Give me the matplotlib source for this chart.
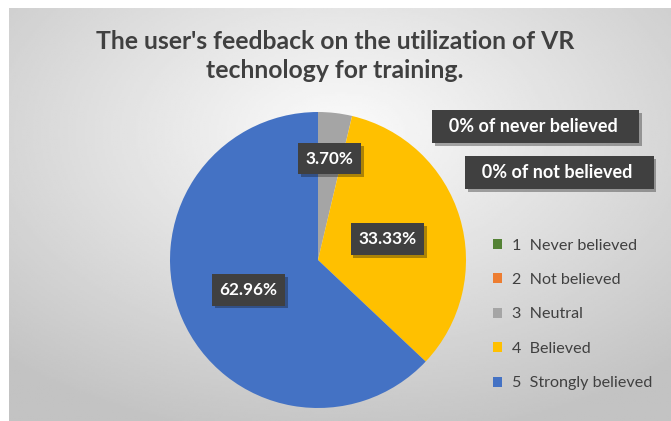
import numpy as np
import matplotlib.pyplot as plt
import matplotlib.patheffects as pe

# Survey data (percent)
categories = ['Never believed', 'Not believed', 'Neutral', 'Believed', 'Strongly believed']
codes = ['1', '2', '3', '4', '5']
values = [0.0, 0.0, 3.70, 33.33, 62.96]
colors = ['#548235', '#ED7D31', '#A5A5A5', '#FFC000', '#4472C4']
zero_notes = ['0% of never believed', '0% of not believed']

title = "The user's feedback on the utilization of VR\ntechnology for training."

plt.rcParams['font.family'] = ['Lato', 'DejaVu Sans']

W, H = 671, 421
fig = plt.figure(figsize=(W / 100, H / 100), dpi=100)
fig.patch.set_facecolor('white')

# radial gradient background of chart area
bg = fig.add_axes([9 / W, 0, (W - 9) / W, (H - 8) / H])
bg.set_axis_off()
yy, xx = np.mgrid[0:200, 0:320]
d = np.hypot((xx - 160) / 320, (yy - 60) / 200)
shade = 0.985 - 0.22 * np.clip(d / 0.75, 0, 1)
bg.imshow(shade, cmap='gray', vmin=0, vmax=1, aspect='auto', extent=[0, 1, 0, 1])
bg.set_xlim(0, 1)
bg.set_ylim(0, 1)

fig.text(335 / W, 1 - 56 / H, title, ha='center', va='center', fontsize=17.8,
         fontweight='bold', color='#404040', linespacing=1.35)

# pie axes: centre (318, 260) px, radius 148 px
r = 148
ax = fig.add_axes([(318 - r) / W, (H - 260 - r) / H, 2 * r / W, 2 * r / H])
wedges, _ = ax.pie(values, colors=colors, startangle=90, counterclock=False,
                   wedgeprops=dict(linewidth=0))
ax.set_xlim(-1, 1)
ax.set_ylim(-1, 1)
ax.set_aspect('equal')
ax.set_clip_on(False)

shadow = [pe.SimplePatchShadow(offset=(2, -2), alpha=0.35), pe.Normal()]
box = dict(boxstyle='square,pad=0.45', fc='#404040', ec='none')

label_dist = [0.0, 0.0, 0.69, 0.49, 0.51]
for w, v, dist in zip(wedges, values, label_dist):
    if v == 0:
        continue
    ang = np.deg2rad((w.theta1 + w.theta2) / 2)
    t = ax.text(dist * np.cos(ang), dist * np.sin(ang), f'{v:.2f}%',
                ha='center', va='center', color='white', fontsize=12.3,
                fontweight='bold', bbox=box, clip_on=False)
    t.get_bbox_patch().set_path_effects(shadow)

note_pos = [(1.47, 0.90), (1.63, 0.59)]
for txt, (x, y) in zip(zero_notes, note_pos):
    t = ax.text(x, y, '  ' + txt + '   ', ha='center', va='center', color='white',
                fontsize=13, fontweight='bold',
                bbox=dict(boxstyle='square,pad=0.45', fc='#404040', ec='none'),
                clip_on=False)
    t.get_bbox_patch().set_path_effects(shadow)

leg = fig.legend(wedges, [f'{c}  {n}' for c, n in zip(codes, categories)],
                 loc='upper left', bbox_to_anchor=(478 / W, 1 - 224 / H),
                 frameon=False, fontsize=11.6, labelcolor='#404040',
                 handlelength=0.6, handleheight=0.6, handletextpad=0.6,
                 labelspacing=1.27)

fig.savefig('out.png', dpi=100)
